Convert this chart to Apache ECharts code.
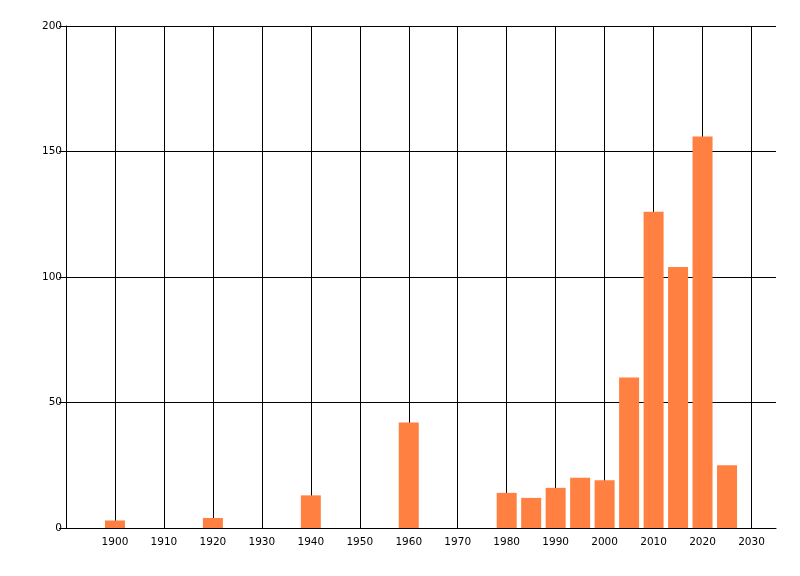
<!DOCTYPE html>
<html>
<head>
<meta charset="utf-8">
<script src="https://cdn.jsdelivr.net/npm/echarts@6/dist/echarts.min.js"></script>
<style>
  html, body { margin: 0; padding: 0; background: #fff; }
  #chart { width: 800px; height: 576px; }
</style>
</head>
<body>
<div id="chart"></div>
<script>
// years (bar centres) and counts
const years = [1900, 1920, 1940, 1960, 1980, 1985, 1990, 1995, 2000, 2005, 2010, 2015, 2020, 2025];
const counts = [3, 4, 13, 42, 14, 12, 16, 20, 19, 60, 126, 104, 156, 25];

const chart = echarts.init(document.getElementById('chart'));

const lineStyle = { color: '#000', width: 1 };
const labelStyle = { color: '#000', fontFamily: 'DejaVu Sans, sans-serif', fontSize: 10.5 };

chart.setOption({
  animation: false,
  grid: { left: 66, right: 24, top: 26, bottom: 48 },
  xAxis: {
    type: 'value',
    min: 1890,
    max: 2035,
    interval: 10,
    axisLine: { show: true, lineStyle },
    axisTick: { show: false },
    axisLabel: { ...labelStyle, margin: 9, showMinLabel: false, showMaxLabel: false,
      formatter: v => String(v) },
    splitLine: { show: true, lineStyle, showMinLine: false, showMaxLine: false }
  },
  yAxis: {
    type: 'value',
    min: 0,
    max: 200,
    interval: 50,
    axisLine: { show: true, lineStyle },
    axisTick: { show: true, length: 7, lineStyle },
    axisLabel: { ...labelStyle, margin: 4 },
    splitLine: { show: true, lineStyle }
  },
  series: [{
    type: 'bar',
    barWidth: 20,
    itemStyle: { color: '#ff8040' },
    data: years.map((y, i) => [y, counts[i]])
  }]
});
</script>
</body>
</html>
